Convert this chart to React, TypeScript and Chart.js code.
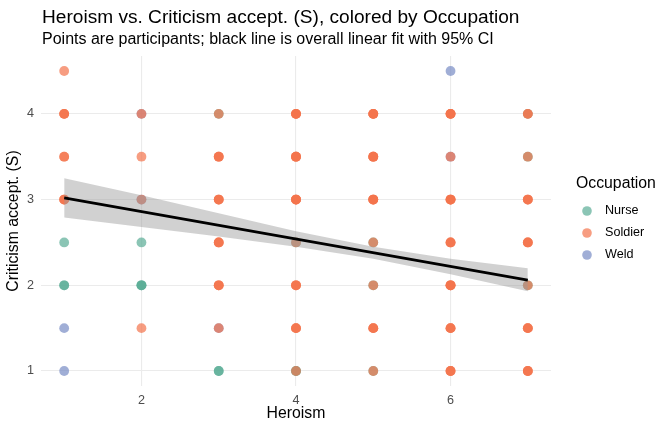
import React, { useEffect, useRef } from "react";
import { Chart, registerables } from "chart.js";

Chart.register(...registerables);

const FONT = '"Liberation Sans", Arial, Helvetica, sans-serif';

const TITLE = "Heroism vs. Criticism accept. (S), colored by Occupation";
const SUBTITLE = "Points are participants; black line is overall linear fit with 95% CI";
const X_TITLE = "Heroism";
const Y_TITLE = "Criticism accept. (S)";
const LEGEND_TITLE = "Occupation";

const occupations = ["Nurse", "Soldier", "Weld"];
const occupationColors = ["rgba(90,172,150,0.7)", "rgba(243,115,75,0.7)", "rgba(120,140,196,0.7)"];

const xTicks = [2, 4, 6];
const yTicks = [1, 2, 3, 4];

// [Heroism, Criticism accept. (S)] per participant
const nursePoints: number[][] = [
  [1, 2.5], [1, 2], [1, 2], [2, 2.5], [2, 2], [2, 2], [2, 2], [3, 4], [3, 1], [3, 1],
  [4, 2.5], [4, 1], [4, 1], [5, 2.5], [5, 2], [5, 1], [7, 4], [7, 3.5], [7, 2],
];

const weldPoints: number[][] = [
  [1, 1.5], [1, 1], [2, 4], [2, 3], [3, 1.5], [6, 4.5], [6, 3.5],
];

const soldierPoints: number[][] = [
  [1, 4.5], [1, 4], [1, 4], [1, 4], [1, 3.5], [1, 3.5], [1, 3], [1, 3], [1, 3],
  [2, 4], [2, 3.5], [2, 3], [2, 1.5],
  [3, 4], [3, 3.5], [3, 3.5], [3, 3.5], [3, 3], [3, 3], [3, 3], [3, 2.5], [3, 2.5], [3, 2.5],
  [3, 2], [3, 2], [3, 2], [3, 1.5],
  [4, 4], [4, 4], [4, 4], [4, 4], [4, 3.5], [4, 3.5], [4, 3.5], [4, 3.5], [4, 3], [4, 3],
  [4, 3], [4, 3], [4, 2.5], [4, 2], [4, 2], [4, 2], [4, 1.5], [4, 1.5], [4, 1.5], [4, 1],
  [5, 4], [5, 4], [5, 4], [5, 4], [5, 3.5], [5, 3.5], [5, 3.5], [5, 3.5], [5, 3], [5, 3],
  [5, 3], [5, 3], [5, 2.5], [5, 2], [5, 1.5], [5, 1.5], [5, 1.5], [5, 1],
  [6, 4], [6, 4], [6, 4], [6, 4], [6, 3.5], [6, 3], [6, 3], [6, 3], [6, 3], [6, 2.5],
  [6, 2.5], [6, 2.5], [6, 2], [6, 2], [6, 2], [6, 2], [6, 1.5], [6, 1.5], [6, 1.5], [6, 1],
  [6, 1], [6, 1],
  [7, 4], [7, 4], [7, 3.5], [7, 3], [7, 3], [7, 3], [7, 2.5], [7, 2.5], [7, 2.5], [7, 2],
  [7, 1.5], [7, 1.5], [7, 1.5], [7, 1], [7, 1], [7, 1],
];

// overall linear fit and its 95% CI
const fitX = [1, 7];
const fitY = [3.02, 2.06];
const bandX = [1, 2, 3, 4, 5, 6, 7];
const bandUpper = [3.25, 3.05, 2.84, 2.63, 2.45, 2.31, 2.2];
const bandLower = [2.79, 2.68, 2.57, 2.45, 2.31, 2.13, 1.93];

const toXY = (pts: number[][]) => pts.map((p) => ({ x: p[0], y: p[1] }));

const textPlugin = {
  id: "texts",
  afterDraw(chart: any) {
    const ctx = chart.ctx;
    const { left, right, top, bottom } = chart.chartArea;
    ctx.save();
    ctx.fillStyle = "#000000";
    ctx.textAlign = "left";
    ctx.textBaseline = "alphabetic";
    ctx.font = `19.1px ${FONT}`;
    ctx.fillText(TITLE, 42, 23);
    ctx.font = `16px ${FONT}`;
    ctx.fillText(SUBTITLE, 42, 43.5);

    ctx.textAlign = "center";
    ctx.textBaseline = "middle";
    ctx.font = `15.8px ${FONT}`;
    ctx.fillText(X_TITLE, (left + right) / 2, 414);
    ctx.save();
    ctx.translate(14, (top + bottom) / 2);
    ctx.rotate(-Math.PI / 2);
    ctx.fillText(Y_TITLE, 0, 0);
    ctx.restore();

    ctx.textAlign = "left";
    ctx.fillText(LEGEND_TITLE, 576, 184);
    ctx.font = `12.6px ${FONT}`;
    const legendY = [211, 233, 255];
    occupations.forEach((name, i) => {
      ctx.fillStyle = occupationColors[i];
      ctx.beginPath();
      ctx.arc(587, legendY[i], 4.8, 0, Math.PI * 2);
      ctx.fill();
      ctx.fillStyle = "#000000";
      ctx.fillText(name, 605, legendY[i]);
    });
    ctx.restore();
  },
};

export default function App() {
  const ref = useRef<HTMLCanvasElement | null>(null);

  useEffect(() => {
    if (!ref.current) return;
    const pointDs = (label: string, pts: number[][], color: string, order: number) => ({
      type: "scatter" as const,
      label,
      data: toXY(pts),
      backgroundColor: color,
      borderWidth: 0,
      pointRadius: 4.9,
      pointHoverRadius: 4.9,
      order,
    });
    const chart = new Chart(ref.current, {
      type: "scatter",
      data: {
        datasets: [
          pointDs(occupations[2], weldPoints, occupationColors[2], 10),
          pointDs(occupations[0], nursePoints, occupationColors[0], 9),
          pointDs(occupations[1], soldierPoints, occupationColors[1], 8),
          {
            type: "line" as const,
            label: "upper",
            data: bandX.map((x, i) => ({ x, y: bandUpper[i] })),
            borderWidth: 0,
            pointRadius: 0,
            backgroundColor: "rgba(153,153,153,0.45)",
            fill: "+1",
            order: 3,
          },
          {
            type: "line" as const,
            label: "lower",
            data: bandX.map((x, i) => ({ x, y: bandLower[i] })),
            borderWidth: 0,
            pointRadius: 0,
            fill: false,
            order: 2,
          },
          {
            type: "line" as const,
            label: "fit",
            data: fitX.map((x, i) => ({ x, y: fitY[i] })),
            borderColor: "#000000",
            borderWidth: 2.6,
            pointRadius: 0,
            fill: false,
            order: 1,
          },
        ] as any,
      },
      options: {
        animation: false,
        responsive: false,
        devicePixelRatio: 1,
        layout: { padding: { top: 56, right: 121, bottom: 0, left: 0 } },
        plugins: { legend: { display: false }, tooltip: { enabled: false }, title: { display: false } },
        scales: {
          x: {
            type: "linear",
            min: 0.7,
            max: 7.3,
            afterFit: (s: any) => {
              s.height = 46;
            },
            afterBuildTicks: (s: any) => {
              s.ticks = xTicks.map((v) => ({ value: v }));
            },
            ticks: { padding: 7, color: "#4D4D4D", font: { family: FONT, size: 12.6 } },
            grid: { color: "#EBEBEB", lineWidth: 1.1, drawTicks: false },
            border: { display: false },
          },
          y: {
            type: "linear",
            min: 0.825,
            max: 4.675,
            afterFit: (s: any) => {
              s.width = 41;
            },
            afterBuildTicks: (s: any) => {
              s.ticks = yTicks.map((v) => ({ value: v }));
            },
            ticks: { padding: 7, color: "#4D4D4D", font: { family: FONT, size: 12.6 } },
            grid: { color: "#EBEBEB", lineWidth: 1.1, drawTicks: false },
            border: { display: false },
          },
        },
      } as any,
      plugins: [textPlugin],
    });
    return () => chart.destroy();
  }, []);

  return (
    <div style={{ position: "absolute", left: 0, top: 0, width: 672, height: 432, background: "#fff" }}>
      <canvas ref={ref} width={672} height={432} style={{ width: 672, height: 432 }} />
    </div>
  );
}
